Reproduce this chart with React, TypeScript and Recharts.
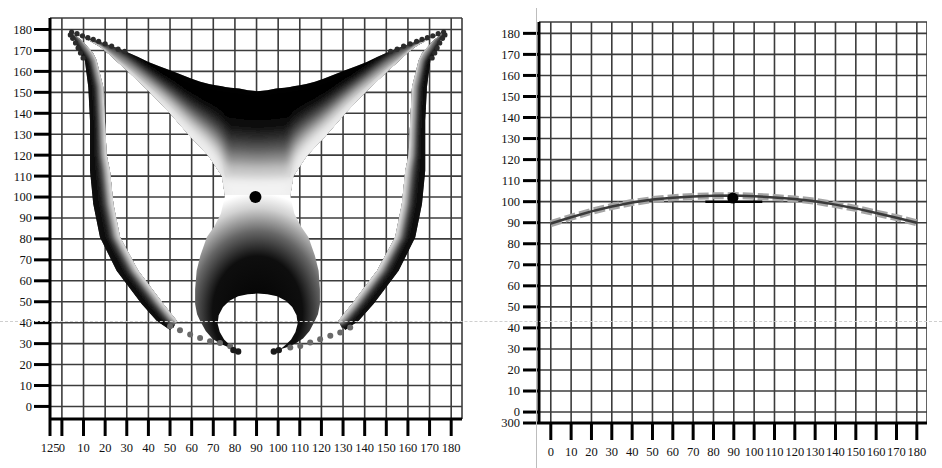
import React from 'react';
import { ScatterChart, Scatter, XAxis, YAxis, CartesianGrid } from 'recharts';

// ---------- left panel: tick values ----------
const leftXTicks = [-5.5, 0, 10, 20, 30, 40, 50, 60, 70, 80, 90, 100, 110, 120, 130, 140, 150, 160, 170, 180];
const leftYTicks = [0, 10, 20, 30, 40, 50, 60, 70, 80, 90, 100, 110, 120, 130, 140, 150, 160, 170, 180];

// upper "wings" region, read column by column: top edge, lower edge and grey-level contours
const upperX = [4, 8, 13, 18, 22, 26, 30, 35, 40, 45, 50, 55, 60, 64, 68, 71, 74, 75.5, 78, 82, 86, 90.5, 95, 99, 103, 105.5, 107, 110, 113, 117, 121, 126, 131, 136, 141, 146, 151, 155, 159, 163, 168, 173, 177];
const upperTop = [179, 177.5, 175.7, 174, 172.5, 171, 169.3, 167, 164.5, 162.5, 160.5, 158.5, 156.5, 155, 154, 153.4, 152.9, 152.6, 152.2, 151.8, 151, 150.5, 151, 151.8, 152.2, 152.6, 152.9, 153.4, 154, 155, 156.5, 158.5, 160.5, 162.5, 164.5, 167, 169.3, 171, 172.5, 174, 175.7, 177.5, 179];
const upperLow = [179, 177, 174.5, 171.5, 168.1, 164.3, 160.6, 155.6, 150.7, 145.5, 140, 134, 128.2, 123.9, 119.4, 114.7, 110, 100, 100, 100, 100, 100, 100, 100, 100, 100, 110, 114.7, 119.4, 123.9, 128.2, 134, 140, 145.5, 150.7, 155.6, 160.6, 164.3, 168.1, 171.5, 174.5, 177, 179];
const upperK1 = [179, 177.4, 175.4, 173.3, 171.3, 169.1, 166.9, 163.8, 160.6, 157.7, 154.8, 151.6, 148.6, 146.3, 144.3, 142.6, 140.9, 137.9, 137.6, 137.3, 136.7, 136.4, 136.7, 137.3, 137.6, 137.9, 140.9, 142.6, 144.3, 146.3, 148.6, 151.6, 154.8, 157.7, 160.6, 163.8, 166.9, 169.1, 171.3, 173.3, 175.4, 177.4, 179];
const upperK2 = [179, 177.3, 175.2, 173, 170.7, 168.3, 165.8, 162.4, 159, 155.7, 152.3, 148.7, 145.2, 142.6, 140.2, 137.9, 135.7, 131.6, 131.3, 131.1, 130.6, 130.3, 130.6, 131.1, 131.3, 131.6, 135.7, 137.9, 140.2, 142.6, 145.2, 148.7, 152.3, 155.7, 159, 162.4, 165.8, 168.3, 170.7, 173, 175.2, 177.3, 179];
const upperK3 = [179, 177.25, 175.1, 172.8, 170.3, 167.7, 165, 161.3, 157.6, 154, 150.3, 146.3, 142.4, 139.5, 136.7, 134.1, 131.5, 126.3, 126.1, 125.9, 125.5, 125.3, 125.5, 125.9, 126.1, 126.3, 131.5, 134.1, 136.7, 139.5, 142.4, 146.3, 150.3, 154, 157.6, 161.3, 165, 167.7, 170.3, 172.8, 175.1, 177.25, 179];
const upperK4 = [179, 177.2, 175, 172.5, 169.9, 167, 164.1, 160.2, 156.2, 152.3, 148.2, 143.8, 139.5, 136.3, 133.2, 130.2, 127.2, 121, 120.9, 120.7, 120.4, 120.2, 120.4, 120.7, 120.9, 121, 127.2, 130.2, 133.2, 136.3, 139.5, 143.8, 148.2, 152.3, 156.2, 160.2, 164.1, 167, 169.9, 172.5, 175, 177.2, 179];
const upperK5 = [179, 177.15, 174.9, 172.3, 169.4, 166.3, 163.2, 159, 154.8, 150.6, 146.2, 141.4, 136.7, 133.2, 129.8, 126.3, 122.9, 115.8, 115.7, 115.5, 115.3, 115.2, 115.3, 115.5, 115.7, 115.8, 122.9, 126.3, 129.8, 133.2, 136.7, 141.4, 146.2, 150.6, 154.8, 159, 163.2, 166.3, 169.4, 172.3, 174.9, 177.15, 179];
const upperK6 = [179, 177.1, 174.7, 172, 168.9, 165.5, 162.2, 157.7, 153.2, 148.6, 143.7, 138.4, 133.3, 129.5, 125.6, 121.7, 117.7, 109.5, 109.4, 109.3, 109.2, 109.1, 109.2, 109.3, 109.4, 109.5, 117.7, 121.7, 125.6, 129.5, 133.3, 138.4, 143.7, 148.6, 153.2, 157.7, 162.2, 165.5, 168.9, 172, 174.7, 177.1, 179];
const upperShades = ['#040404', '#101010', '#2e2e2e', '#5a5a5a', '#8f8f8f', '#c6c6c6', '#f2f2f2'];

// lower bulb with the hole, traced round its outline
const bulbOutline = [
  [75.5, 101], [73.5, 92], [70.5, 86], [67, 80.8], [64, 72], [62.3, 64.8], [61.6, 56], [61.6, 48.9], [62.5, 44], [63.9, 40.9],
  [66.5, 36], [69.5, 32.5], [73, 30], [77, 28.3], [80, 27.3], [77.5, 29.5], [75, 32], [73, 35.5], [72, 39.5], [72.5, 43.5],
  [74.5, 47.5], [77.5, 50.5], [81.5, 52.6], [86, 53.6], [90.5, 53.9], [95, 53.6], [99.5, 52.6], [103.5, 50.5], [106.5, 47.5],
  [108.5, 43.5], [109, 39.5], [108, 35.5], [106, 32], [103.5, 29.5], [101, 27.3], [104, 28.3], [108, 30], [111.5, 32.5],
  [114.5, 36], [117, 40.9], [118.4, 44], [119.3, 48.9], [119.3, 56], [118.7, 64.8], [117, 72], [114, 80.8], [110.5, 86],
  [107.5, 92], [105.5, 101],
];

// side arms: y levels, then x of outer edge, shade borders and inner edge at each level
const armY = [178.9, 174.9, 168.5, 165.3, 152.5, 136.6, 120, 112.7, 96.7, 80.8, 64.8, 48.9, 40.9];
const armLeftOuterX = [3.7, 6, 8.3, 10.6, 12.2, 13, 13, 13, 14.5, 17.6, 25.3, 36.9, 43.8];
const armLeftB1X = [3.7, 6.9, 10.2, 12.2, 14.3, 15.1, 15.3, 15.8, 17.3, 20.4, 28.3, 39.9, 46.6];
const armLeftB2X = [3.7, 7.6, 11.4, 13.3, 15.7, 16.5, 16.9, 17.6, 19.2, 22.3, 30.3, 41.9, 48.5];
const armLeftB3X = [3.7, 8.2, 12.6, 14.4, 17, 17.8, 18.4, 19.4, 21, 24.1, 32.3, 43.9, 50.3];
const armLeftB4X = [3.7, 8.7, 13.6, 15.2, 18.1, 18.8, 19.5, 20.8, 22.4, 25.5, 33.8, 45.4, 51.7];
const armLeftInnerX = [3.7, 9.1, 14.5, 16, 19.1, 19.9, 20.7, 22.2, 23.8, 26.9, 35.3, 46.9, 53.1];
const armRightOuterX = [177.3, 175, 172.7, 170.4, 168.8, 168, 168, 168, 166.5, 163.4, 155.7, 144.1, 137.2];
const armRightB1X = [177.3, 174.1, 170.8, 168.8, 166.7, 165.9, 165.7, 165.2, 163.7, 160.6, 152.7, 141.1, 134.4];
const armRightB2X = [177.3, 173.4, 169.6, 167.7, 165.3, 164.5, 164.1, 163.4, 161.8, 158.7, 150.7, 139.1, 132.5];
const armRightB3X = [177.3, 172.8, 168.4, 166.6, 164, 163.2, 162.6, 161.6, 160, 156.9, 148.7, 137.1, 130.7];
const armRightB4X = [177.3, 172.3, 167.4, 165.8, 162.9, 162.2, 161.5, 160.2, 158.6, 155.5, 147.2, 135.6, 129.3];
const armRightInnerX = [177.3, 171.9, 166.5, 165, 161.9, 161.1, 160.3, 158.8, 157.2, 154.1, 145.7, 134.1, 127.9];
const armLeftTips = [[50, 36.5], [51.5, 37.5], [52, 38.5], [52.8, 39.5], [53, 40.2]];
const armRightTips = [[131, 36.5], [129.5, 37.5], [129, 38.5], [128.2, 39.5], [128, 40.2]];
const armShades = ['#080808', '#121212', '#444', '#959595', '#e8e8e8'];

// beads along the edges and the trails of dots at the bottom
const edgeBeads = [
  [4.5, 178.8], [7, 178], [9.5, 177], [12, 176.1], [14.5, 175.3], [17, 174.4], [20, 173.2], [23, 172.1], [26, 170.6], [29, 169.6],
  [176.5, 178.8], [174, 178], [171.5, 177], [169, 176.1], [166.5, 175.3], [164, 174.4], [161, 173.2], [158, 172.1], [155, 170.6], [152, 169.6],
  [3.9, 177.4], [5, 175.8], [6.3, 173.6], [7.5, 171.2], [8.6, 168.8], [9.8, 166.4],
  [177.1, 177.4], [176, 175.8], [174.7, 173.6], [173.5, 171.2], [172.4, 168.8], [171.2, 166.4],
];
const trailDots = [
  [50, 38.3], [54.6, 36.4], [59.3, 34.3], [63.9, 32.7], [68.5, 31.1], [73.1, 30.3], [77.8, 28.7],
  [133.3, 37.7], [128.7, 35.3], [124.1, 33.7], [119.4, 32.1], [114.8, 30.5], [110.2, 28.9], [105.6, 28.1],
];
const trailEnds = [[81.5, 26.2], [79.3, 26.9], [98, 26.2], [100.3, 26.9]];
const leftCentre = [[89.5, 100]];

// ---------- right panel ----------
const rightXTicks = [0, 10, 20, 30, 40, 50, 60, 70, 80, 90, 100, 110, 120, 130, 140, 150, 160, 170, 180];
const rightYTicks = [-5.2, 0, 10, 20, 30, 40, 50, 60, 70, 80, 90, 100, 110, 120, 130, 140, 150, 160, 170, 180];
const curveX = [0, 10, 20, 30, 40, 50, 60, 70, 80, 90, 100, 110, 120, 130, 140, 150, 160, 170, 180];
const curveY = [89.6, 92.6, 95.4, 97.7, 99.6, 101, 101.9, 102.5, 102.8, 102.9, 102.6, 102, 101.3, 100.2, 98.6, 96.8, 94.6, 92.4, 90];
const peakMark = [[76, 100], [104, 100]];
const rightCentre = [[89.5, 101.7]];

// ---------- tables built for the library ----------
const toPts = (pairs: number[][]) => pairs.map(([x, y]) => ({ x, y }));
const colPts = (xs: number[], ys: number[]) => xs.map((x, i) => ({ x, y: ys[i] }));

const upperContours = [upperTop, upperK1, upperK2, upperK3, upperK4, upperK5, upperK6];
const UPPER_CHUNK = upperX.length * 2;
const upperData = upperContours.flatMap((row) => [...colPts(upperX, row), ...colPts(upperX, upperLow).reverse()]);

const ARM_CHUNK = armY.length * 2 + 1;
const armData = (edges: number[][], inner: number[], tips: number[][]) =>
  edges.flatMap((edge, k) => [...colPts(edge, armY), { x: tips[k][0], y: tips[k][1] }, ...colPts(inner, armY).reverse()]);
const armLeftData = armData([armLeftOuterX, armLeftB1X, armLeftB2X, armLeftB3X, armLeftB4X], armLeftInnerX, armLeftTips);
const armRightData = armData([armRightOuterX, armRightB1X, armRightB2X, armRightB3X, armRightB4X], armRightInnerX, armRightTips);

const curveData = colPts(curveX, curveY);

const FONT = "'Liberation Serif', 'DejaVu Serif', serif";
const tickStyle = { fontSize: 12.5, fill: '#111', fontFamily: FONT };

const noShape = () => <g />;
const dot = (r: number, fill: string) => (p: any) => <circle cx={p.cx} cy={p.cy} r={r} fill={fill} />;
const pathOf = (pts: any[], close: boolean) => 'M' + pts.map((q: any) => `${q.x},${q.y}`).join('L') + (close ? 'Z' : '');

// filled polygon from the scaled points of a Scatter series
const polygon = (fill: string) => (p: any) => {
  const pts = p.points || [];
  if (!pts.length) return <g />;
  return <path d={pathOf(pts, true)} fill={fill} stroke="none" />;
};

// several stacked polygons (fixed number of points each), drawn sharp and then softened on top
const shaded = (shades: string[], chunk: number, filterId: string) => (p: any) => {
  const pts = p.points || [];
  if (!pts.length) return <g />;
  const draw = (tag: string) =>
    shades.map((c, k) => <path key={tag + k} d={pathOf(pts.slice(k * chunk, (k + 1) * chunk), true)} fill={c} stroke="none" />);
  return (
    <g>
      <g>{draw('a')}</g>
      <g filter={`url(#${filterId})`}>{draw('b')}</g>
    </g>
  );
};

const polyline = (stroke: string, width: number, dash?: string) => (p: any) => {
  const pts = p.points || [];
  if (!pts.length) return <g />;
  return <path d={pathOf(pts, false)} fill="none" stroke={stroke} strokeWidth={width} strokeDasharray={dash} strokeLinejoin="round" />;
};

const axisLine = { stroke: '#000', strokeWidth: 3 };
const tickLine = { stroke: '#000', strokeWidth: 3 };

const LeftPanel = () => (
  <ScatterChart width={470} height={468} margin={{ top: 18, right: 8, bottom: 19, left: 0 }}>
    <defs>
      <radialGradient id="bulbFill" cx="0.5" cy="0.757" r="0.8">
        <stop offset="0" stopColor="#030303" />
        <stop offset="0.45" stopColor="#0e0e0e" />
        <stop offset="0.65" stopColor="#666" />
        <stop offset="0.84" stopColor="#d2d2d2" />
        <stop offset="0.96" stopColor="#fff" />
      </radialGradient>
      <filter id="softUpper" x="-5%" y="-5%" width="110%" height="110%">
        <feGaussianBlur stdDeviation="4" result="b" />
        <feComposite in="b" in2="SourceAlpha" operator="in" />
      </filter>
      <filter id="softArm" x="-10%" y="-5%" width="120%" height="110%">
        <feGaussianBlur stdDeviation="2" result="b" />
        <feComposite in="b" in2="SourceAlpha" operator="in" />
      </filter>
    </defs>
    <CartesianGrid stroke="#3c3c3c" strokeWidth={1.6} />
    <XAxis
      type="number"
      dataKey="x"
      domain={[-5.5, 185]}
      allowDataOverflow
      ticks={leftXTicks}
      interval={0}
      tickFormatter={(v: number) => (v < 0 ? '125' : String(v))}
      height={30}
      tickSize={17}
      tickMargin={7}
      tick={tickStyle}
      axisLine={axisLine}
      tickLine={tickLine}
    />
    <YAxis
      type="number"
      dataKey="y"
      domain={[-6, 185.5]}
      allowDataOverflow
      ticks={leftYTicks}
      interval={0}
      width={50}
      tickSize={16}
      tickMargin={2}
      tick={tickStyle}
      axisLine={axisLine}
      tickLine={tickLine}
    />
    <Scatter data={upperData} shape={noShape} line={shaded(upperShades, UPPER_CHUNK, 'softUpper')} isAnimationActive={false} />
    <Scatter data={toPts(bulbOutline)} shape={noShape} line={polygon('url(#bulbFill)')} isAnimationActive={false} />
    <Scatter data={armLeftData} shape={noShape} line={shaded(armShades, ARM_CHUNK, 'softArm')} isAnimationActive={false} />
    <Scatter data={armRightData} shape={noShape} line={shaded(armShades, ARM_CHUNK, 'softArm')} isAnimationActive={false} />
    <Scatter data={toPts(edgeBeads)} shape={dot(2.6, '#2b2b2b')} isAnimationActive={false} />
    <Scatter data={toPts(trailDots)} shape={dot(3, '#6a6a6a')} isAnimationActive={false} />
    <Scatter data={toPts(trailEnds)} shape={dot(3.2, '#1a1a1a')} isAnimationActive={false} />
    <Scatter data={toPts(leftCentre)} shape={dot(6, '#000')} isAnimationActive={false} />
  </ScatterChart>
);

const RightPanel = () => (
  <ScatterChart width={447} height={468} margin={{ top: 22, right: 0, bottom: 15, left: 0 }}>
    <CartesianGrid stroke="#3c3c3c" strokeWidth={1.6} />
    <XAxis
      type="number"
      dataKey="x"
      domain={[-5.8, 185]}
      allowDataOverflow
      ticks={rightXTicks}
      interval={0}
      height={30}
      tickSize={17}
      tickMargin={7}
      tick={tickStyle}
      axisLine={axisLine}
      tickLine={tickLine}
    />
    <YAxis
      type="number"
      dataKey="y"
      domain={[-5.2, 185.4]}
      allowDataOverflow
      ticks={rightYTicks}
      interval={0}
      tickFormatter={(v: number) => (v < 0 ? '300' : String(v))}
      width={59}
      tickSize={16}
      tickMargin={3}
      tick={tickStyle}
      axisLine={axisLine}
      tickLine={tickLine}
    />
    <Scatter data={curveData} shape={noShape} line={polyline('#a5a5a5', 7, '11 4')} isAnimationActive={false} />
    <Scatter data={curveData} shape={noShape} line={polyline('#3a3a3a', 2.5)} isAnimationActive={false} />
    <Scatter data={toPts(peakMark)} shape={noShape} line={polyline('#000', 2.5)} isAnimationActive={false} />
    <Scatter data={toPts(rightCentre)} shape={dot(5.5, '#000')} isAnimationActive={false} />
  </ScatterChart>
);

export default function App() {
  return (
    <div style={{ position: 'absolute', left: 0, top: 0, width: 942, height: 468, background: '#fff', overflow: 'hidden' }}>
      <div style={{ position: 'absolute', left: 0, top: 0 }}>
        <LeftPanel />
      </div>
      <div style={{ position: 'absolute', left: 480, top: 0 }}>
        <RightPanel />
      </div>
      <div style={{ position: 'absolute', left: 536, top: 8, width: 0, height: 460, borderLeft: '1px solid #bdbdbd' }} />
      <div style={{ position: 'absolute', left: 0, top: 321, width: 942, height: 0, borderTop: '1px dashed #cfcfcf' }} />
    </div>
  );
}
